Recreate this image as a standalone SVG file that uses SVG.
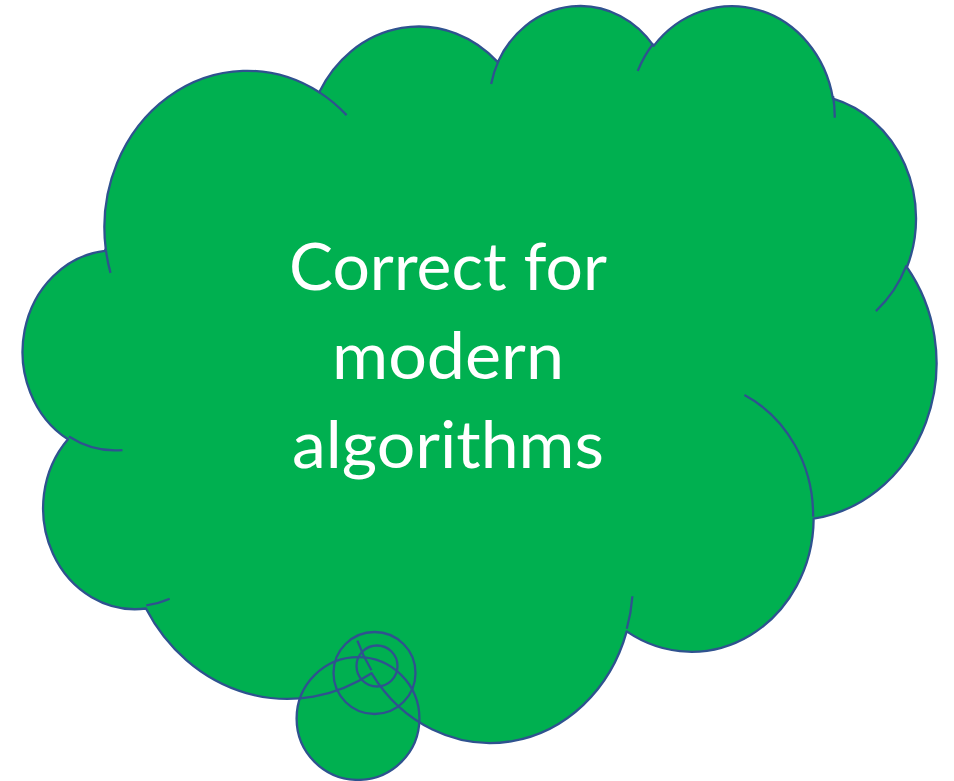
<svg xmlns="http://www.w3.org/2000/svg" xmlns:xlink="http://www.w3.org/1999/xlink" width="954" height="781" viewBox="0 0 954 781">
  <style>
    .fill { fill: #00B050; stroke: none; }
    .line { fill: none; stroke: #2F528F; stroke-width: 2.3; stroke-linecap: butt; stroke-linejoin: round; }
    .label { font-family: Lato, "Liberation Sans", sans-serif; font-size: 66px; fill: #FFFFFF; text-anchor: middle; }
  </style>
  <defs>
    <path id="body" vector-effect="non-scaling-stroke" d="M3900,14370 A6753,9190 0 0,1 14005.1,5201.9 A5333,7267 0 0,1 22455.9,3432.3 A4365,5945 0 0,1 29832.9,2481.0 A4857,6595 0 0,1 38318.0,5576.1 A5333,7273 0 0,1 41818.3,15459.9 A6775,9220 0 0,1 37404.3,30203.2 A5785,7867 0 0,1 28556.0,36813.5 A6752,9215 0 0,1 16480.4,39264.4 A7720,10543 0 0,1 5804.8,35470.5 A4360,5918 0 0,1 2113.3,25548.6 A4345,5945 0 0,1 3863.4,14505.0 Z"/>
    <path id="decor" vector-effect="non-scaling-stroke" d="M4693,26177 A4345,5945 0 0,1 2159.8,25380.0 M6928,34899 A4360,5918 0 0,1 5819.8,35280.5 M16478,39090 A6752,9215 0 0,1 15810.3,37349.9 M28827,34751 A6752,9215 0 0,1 28560.4,36660.3 M34129,22954 A5785,7867 0 0,1 37380.4,30089.7 M41798,15354 A5333,7273 0 0,1 40350.2,18029.6 M38324,5426 A4857,6595 0 0,1 38400.5,6689.7 M29078,3952 A4857,6595 0 0,1 29819.6,2340.4 M22141,4720 A4365,5945 0 0,1 22500.2,3330.2 M14000,5192 A6753,9190 0 0,1 15299.9,6540.5 M4127,15789 A6753,9190 0 0,1 3900.1,14370.5"/>
  </defs>
  <g id="cloud-callout">
    <g transform="translate(23.3,3.6) scale(0.02113,0.017054)">
      <use xlink:href="#body" class="fill"/>
    </g>
    <circle class="fill" cx="377" cy="666" r="20.5"/>
    <circle class="fill" cx="374.5" cy="673" r="41"/>
    <circle class="fill" cx="358" cy="718.5" r="61.4"/>
    <g transform="translate(23.3,3.6) scale(0.02113,0.017054)">
      <use xlink:href="#body" class="line"/>
      <use xlink:href="#decor" class="line"/>
    </g>
    <circle class="line" cx="377" cy="666" r="20.5"/>
    <circle class="line" cx="374.5" cy="673" r="41"/>
    <circle class="line" cx="358" cy="718.5" r="61.4"/>
  </g>
  <g id="label">
    <text class="label" x="448" y="290" textLength="318" lengthAdjust="spacingAndGlyphs">Correct for</text>
    <text class="label" x="448" y="379" textLength="232" lengthAdjust="spacingAndGlyphs">modern</text>
    <text class="label" x="448" y="468" textLength="312" lengthAdjust="spacingAndGlyphs">algorithms</text>
  </g>
</svg>
